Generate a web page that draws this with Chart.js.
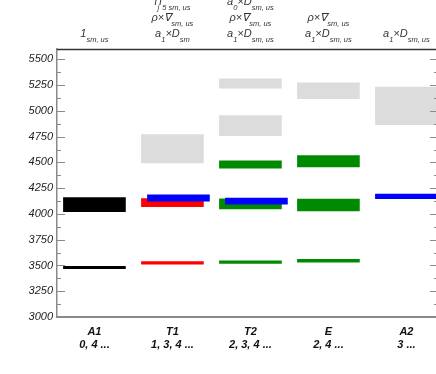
<!DOCTYPE html>
<html>
<head>
<meta charset="utf-8">
<script src="https://cdn.jsdelivr.net/npm/chart.js@4/dist/chart.umd.min.js"></script>
<style>
html,body{margin:0;padding:0;overflow:hidden;background:#fff;}
canvas{display:block;}
</style>
</head>
<body>
<canvas id="c" width="444" height="374"></canvas>
<script>
// ---- data ----
const categories = ['A1', 'T1', 'T2', 'E', 'A2'];
const caseLabels = ['0, 4 ...', '1, 3, 4 ...', '2, 3, 4 ...', '2, 4 ...', '3 ...'];
const yTickValues = [3000, 3250, 3500, 3750, 4000, 4250, 4500, 4750, 5000, 5250, 5500];
const headers = [
  ['1_{sm, us}'],
  ['f_{j}f_{5 sm, us}', 'ρ×∇_{sm, us}', 'a_{1}×D_{sm}'],
  ['a_{0}×D_{sm, us}', 'ρ×∇_{sm, us}', 'a_{1}×D_{sm, us}'],
  ['ρ×∇_{sm, us}', 'a_{1}×D_{sm, us}'],
  ['a_{1}×D_{sm, us}']
];
// [category, low, high]
const grayBars = [['T1', 4494, 4769], ['T2', 4760, 4954], ['T2', 5220, 5311], ['E', 5117, 5273], ['A2', 4867, 5231]];
const blackBars = [['A1', 4022, 4159], ['A1', 3470, 3492]];
const redBars = [['T1', 4071, 4149], ['T1', 3512, 3538]];
const greenBars = [['T2', 4445, 4516], ['T2', 4049, 4146], ['T2', 3520, 3545], ['E', 4455, 4565], ['E', 4030, 4143], ['E', 3533, 3559]];
const blueBars = [['T1', 4124, 4185], ['T2', 4094, 4153], ['A2', 4149, 4192]];

// ---- styles ----
const shiftedBlueCats = ['T1', 'T2'];
const FONT = '"Liberation Sans", Arial, sans-serif';
const X_MIN = 0.52, X_MAX = 5.405, BLUE_SHIFT = 0.077;

function toPoints(list) {
  return list.map(b => ({ x: categories.indexOf(b[0]) + 1, y: [b[1], b[2]] }));
}

const ds = [
  { data: toPoints(blueBars.filter(b => shiftedBlueCats.includes(b[0]))), backgroundColor: '#0000ff', xAxisID: 'xs' },
  { data: toPoints(blueBars.filter(b => !shiftedBlueCats.includes(b[0]))), backgroundColor: '#0000ff', xAxisID: 'x' },
  { data: toPoints(greenBars), backgroundColor: '#008a00', xAxisID: 'x' },
  { data: toPoints(redBars), backgroundColor: '#ff0000', xAxisID: 'x' },
  { data: toPoints(blackBars), backgroundColor: '#000000', xAxisID: 'x' },
  { data: toPoints(grayBars), backgroundColor: '#dcdcdc', xAxisID: 'x' }
].map(d => Object.assign(d, { barThickness: 62, grouped: false, borderWidth: 0 }));

function drawRich(ctx, text, cx, baseline) {
  const mainFont = 'italic 11px ' + FONT;
  const subFont = 'italic 7.5px ' + FONT;
  const segs = [];
  const re = /_\{([^}]*)\}|([^_]+)/g;
  let m;
  while ((m = re.exec(text)) !== null) {
    if (m[1] !== undefined) segs.push({ t: m[1], sub: true });
    else segs.push({ t: m[2], sub: false });
  }
  let total = 0;
  segs.forEach(s => { ctx.font = s.sub ? subFont : mainFont; s.w = ctx.measureText(s.t).width; total += s.w; });
  let x = cx - total / 2;
  ctx.textAlign = 'left';
  ctx.textBaseline = 'alphabetic';
  segs.forEach(s => {
    ctx.font = s.sub ? subFont : mainFont;
    ctx.fillText(s.t, x, baseline + (s.sub ? 4.5 : 0));
    x += s.w;
  });
}

const framePlugin = {
  id: 'frame',
  afterDraw(chart) {
    const ctx = chart.ctx;
    const a = chart.chartArea;
    const ys = chart.scales.y;
    const xsc = chart.scales.x;
    ctx.save();
    // inward ticks on left and right
    ctx.strokeStyle = '#8a8a8a';
    ctx.lineWidth = 1;
    const step = (yTickValues[1] - yTickValues[0]) / 2;
    for (let v = ys.min; v <= ys.max; v += step) {
      const y = Math.round(ys.getPixelForValue(v)) + 0.5;
      const major = (v - yTickValues[0]) % (step * 2) === 0;
      const len = major ? 8 : 4;
      ctx.beginPath();
      ctx.moveTo(a.left, y); ctx.lineTo(a.left + len, y);
      ctx.moveTo(a.right - len, y); ctx.lineTo(a.right, y);
      ctx.stroke();
    }
    // top and right frame
    ctx.strokeStyle = '#333';
    ctx.lineWidth = 1.5;
    ctx.beginPath();
    ctx.moveTo(a.left, a.top + 0.5); ctx.lineTo(a.right, a.top + 0.5);
    ctx.stroke();
    ctx.strokeStyle = '#888';
    ctx.beginPath();
    ctx.moveTo(a.right, a.top); ctx.lineTo(a.right, a.bottom);
    ctx.stroke();
    // headers
    ctx.fillStyle = '#333';
    headers.forEach((lines, i) => {
      const cx = xsc.getPixelForValue(i + 1);
      const n = lines.length;
      lines.forEach((ln, j) => {
        const baseline = 37 - (n - 1 - j) * 16;
        drawRich(ctx, ln, cx, baseline);
      });
    });
    ctx.restore();
  }
};

new Chart(document.getElementById('c'), {
  type: 'bar',
  data: { datasets: ds },
  options: {
    responsive: false,
    animation: false,
    events: [],
    layout: { padding: { top: 49, right: 6, left: 0, bottom: 0 } },
    plugins: { legend: { display: false }, tooltip: { enabled: false } },
    scales: {
      x: {
        type: 'linear', min: X_MIN, max: X_MAX, offset: false,
        grid: { display: false, drawTicks: false },
        border: { display: true, color: '#8a8a8a', width: 2 },
        afterBuildTicks: s => { s.ticks = categories.map((c, i) => ({ value: i + 1 })); },
        afterFit: s => { s.height = 57; },
        ticks: {
          autoSkip: false, maxRotation: 0, padding: 8, color: '#111',
          font: { family: FONT, size: 11, style: 'italic', weight: 'bold', lineHeight: 1.2 },
          callback: v => [categories[v - 1], caseLabels[v - 1]]
        }
      },
      xs: {
        type: 'linear', display: false, offset: false,
        min: X_MIN - BLUE_SHIFT, max: X_MAX - BLUE_SHIFT
      },
      y: {
        type: 'linear', min: 3000, max: 5600,
        grid: { display: false, drawTicks: false },
        border: { display: true, color: '#8a8a8a', width: 1.5 },
        afterBuildTicks: s => { s.ticks = yTickValues.map(v => ({ value: v })); },
        afterFit: s => { s.width = 57; },
        ticks: {
          padding: 4, color: '#222',
          font: { family: FONT, size: 11, style: 'italic' },
          callback: v => String(v)
        }
      }
    }
  },
  plugins: [framePlugin]
});
</script>
</body>
</html>
